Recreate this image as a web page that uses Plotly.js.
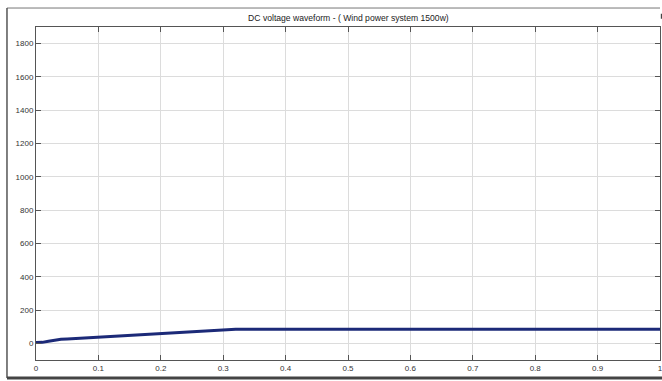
<!DOCTYPE html>
<html><head><meta charset="utf-8">
<script src="https://cdn.plot.ly/plotly-3.0.1.min.js"></script>
<style>html,body{margin:0;padding:0;background:#fff;}#chart{width:662px;height:381px;}</style>
</head><body><div id="chart"></div>
<script>
const timeS = [0, 0.01, 0.02, 0.03, 0.04, 0.05, 0.06, 0.07, 0.08, 0.1, 0.12, 0.15, 0.18, 0.2, 0.22, 0.25, 0.28, 0.3, 0.32, 0.35, 0.4, 0.5, 0.6, 0.7, 0.8, 0.9, 1.0];
const voltage = [5, 6, 13, 20, 24, 26, 28, 30, 33, 37, 42, 48, 55, 60, 64, 70, 76, 80, 84, 85, 85, 85, 85, 85, 85, 85, 85];
const xTicks = [0, 0.1, 0.2, 0.3, 0.4, 0.5, 0.6, 0.7, 0.8, 0.9, 1];
const xTickText = ['0', '0.1', '0.2', '0.3', '0.4', '0.5', '0.6', '0.7', '0.8', '0.9', '1'];
const yTicks = [0, 200, 400, 600, 800, 1000, 1200, 1400, 1600, 1800];

const font = {family: 'Liberation Sans, Arial, sans-serif', size: 8, color: '#333'};
const axisCommon = {
  showgrid: true, gridcolor: '#dcdcdc', gridwidth: 1,
  zeroline: false, showline: true, linecolor: '#555', linewidth: 1, mirror: 'ticks',
  ticks: 'inside', ticklen: 5, tickcolor: '#555', tickfont: font,
  ticklabeloverflow: 'allow'
};
const layout = {
  width: 662, height: 381,
  margin: {l: 36, r: 2, t: 27, b: 21},
  paper_bgcolor: '#fff', plot_bgcolor: '#fff',
  showlegend: false,
  title: {text: 'DC voltage waveform - ( Wind power system 1500w)', font: {family: 'Liberation Sans, Arial, sans-serif', size: 8.6, color: '#222'}, x: 0.5263, xanchor: 'center', y: 0.952, yanchor: 'middle'},
  xaxis: Object.assign({}, axisCommon, {range: [0, 1], tickvals: xTicks, ticktext: xTickText}),
  yaxis: Object.assign({}, axisCommon, {range: [-100, 1900], tickvals: yTicks}),
  shapes: [
    {type: 'line', xref: 'paper', yref: 'paper', x0: -0.0465, x1: 1.0, y0: 1.057, y1: 1.057, line: {color: '#777', width: 1}},
    {type: 'line', xref: 'paper', yref: 'paper', x0: -0.0465, x1: -0.0465, y0: 1.057, y1: -0.054, line: {color: '#555', width: 1.5}},
    {type: 'line', xref: 'paper', yref: 'paper', x0: -0.0465, x1: 1.004, y0: -0.054, y1: -0.054, line: {color: '#444', width: 3}},
    {type: 'line', xref: 'paper', yref: 'paper', x0: 1.0025, x1: 1.0025, y0: 1.04, y1: 1.025, line: {color: '#444', width: 1.5}}
  ]
};
Plotly.newPlot('chart', [{
  x: timeS, y: voltage, type: 'scatter', mode: 'lines',
  line: {color: '#1c2a78', width: 3}
}], layout, {staticPlot: true, displayModeBar: false});
</script></body></html>
